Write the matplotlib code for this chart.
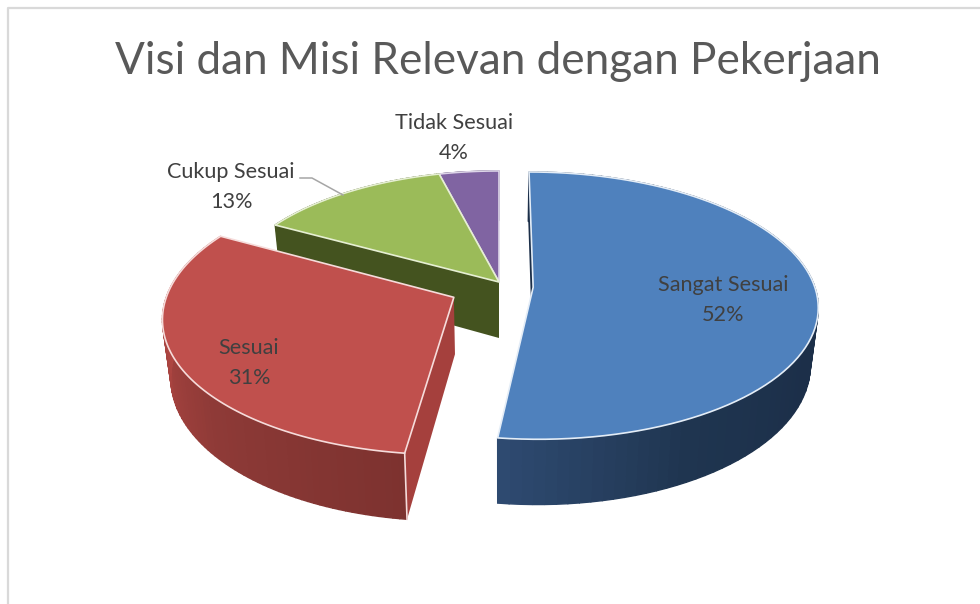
import numpy as np
import matplotlib
matplotlib.use("Agg")
import matplotlib.pyplot as plt
from matplotlib.colors import to_rgb
from matplotlib.patches import Polygon

plt.rcParams['font.family'] = ['Lato', 'DejaVu Sans']

# chart values
title = 'Visi dan Misi Relevan dengan Pekerjaan'
labels = ['Sangat Sesuai', 'Sesuai', 'Cukup Sesuai', 'Tidak Sesuai']
values = [52, 31, 13, 4]

# slice looks
top_colors = ['#4f81bd', '#c0504d', '#9bbb59', '#8064a2']
wall_stops = [['#2f4b72', '#1f3550', '#1c2f49'],
              ['#7d322f', '#8e3a37', '#b04642'],
              ['#44531f', '#44531f', '#44531f'],
              ['#4c3b62', '#4c3b62', '#4c3b62']]
radial_colors = ['#1c2f49', '#a5403d', '#44531f', '#4c3b62']
edge_colors = ['#e4edf7', '#f6dcdb', '#e6efd3', '#ddd5e8']
radii = [0.99, 1.0, 0.96, 0.96]
# which cut faces show: 0 = first edge of the slice, -1 = last edge
radial_faces = [[0], [0], [0], []]
# how far each slice is pulled out (disc units)
shifts = [(0.12, -0.04), (-0.157, -0.115), (0.0, 0.0), (0.0, 0.0)]

# camera
cx, cy = 499, 282
ax_x, ax_y, depth = 283, 131, 56
persp = 0.138
shrink = 0.025


def project(x, y, z=0.0):
    x = np.asarray(x, dtype=float)
    y = np.asarray(y, dtype=float)
    z = np.asarray(z, dtype=float)
    s = 1 / (1 + persp * y)
    return cx + ax_x * x * s * (1 - shrink * z), cy - ax_y * y * s + depth * s * z


def mix(stops, t):
    pos = np.linspace(0, 1, len(stops))
    rgb = np.array([to_rgb(c) for c in stops])
    return [np.interp(t, pos, rgb[:, i]) for i in range(3)]


fig = plt.figure(figsize=(9.8, 6.04), dpi=100)
ax = fig.add_axes([0, 0, 1, 1])
ax.set_xlim(0, 980)
ax.set_ylim(604, 0)
ax.axis('off')

# frame of the chart area
ax.plot([8, 8, 980], [604, 8, 8], color='#d9d9d9', lw=1.6)

ends = np.cumsum(values) / np.sum(values) * 2 * np.pi
starts = np.concatenate([[0], ends[:-1]])

# back slices first, the pulled out ones on top
for i in [3, 2, 0, 1]:
    t = np.linspace(starts[i], ends[i], 90)
    x0, y0 = shifts[i]
    r = radii[i]
    ox = x0 + r * np.sin(t)
    oy = y0 + r * np.cos(t)

    # radial walls
    for k in radial_faces[i]:
        px, py = project([x0, ox[k], ox[k], x0], [y0, oy[k], oy[k], y0], [0, 0, 1, 1])
        ax.add_patch(Polygon(np.column_stack([px, py]), closed=True, fc=radial_colors[i], ec='none'))

    # outer wall, one strip per step so the shade can change
    tx, ty = project(ox, oy, 0)
    bx, by = project(ox, oy, 1)
    for j in range(len(t) - 1):
        shade = (t[j] - t[0]) / (t[-1] - t[0])
        strip = [[tx[j], ty[j]], [tx[j + 1], ty[j + 1]], [bx[j + 1], by[j + 1]], [bx[j], by[j]]]
        if i == 0:
            col = mix(wall_stops[i], min((1 - shade) * 2.6, 1))
        elif i == 1:
            col = mix(wall_stops[i], min(shade * 1.4, 1))
        else:
            col = mix(wall_stops[i], 0)
        ax.add_patch(Polygon(strip, closed=True, fc=col, ec=col, lw=1.0))

    # corner line at the front of the red slice
    if i == 1:
        ax.plot([tx[0], bx[0]], [ty[0], by[0]], color=edge_colors[i], lw=1.2)

    # top face
    ax0, ay0 = project(x0, y0, 0)
    top = np.vstack([[ax0, ay0], np.column_stack([tx, ty])])
    ax.add_patch(Polygon(top, closed=True, fc=top_colors[i], ec=edge_colors[i], lw=1.2, joinstyle='round'))

# leader line of the green slice
ax.plot([300, 312, 343], [178, 178, 195], color='#a6a6a6', lw=1.1)

text_col = '#404040'
ax.text(498, 61, title, ha='center', va='center', fontsize=31.8, color='#595959')
label_pos = [(723, 285), (249, 348), (231, 172), (454, 123)]
for name, v, (lx, ly) in zip(labels, values, label_pos):
    ax.text(lx, ly, name, ha='center', va='center', fontsize=15.6, color=text_col)
    ax.text(lx, ly + 30, f'{v}%', ha='center', va='center', fontsize=15.6, color=text_col)

fig.savefig('out.png', dpi=100, facecolor='white')
